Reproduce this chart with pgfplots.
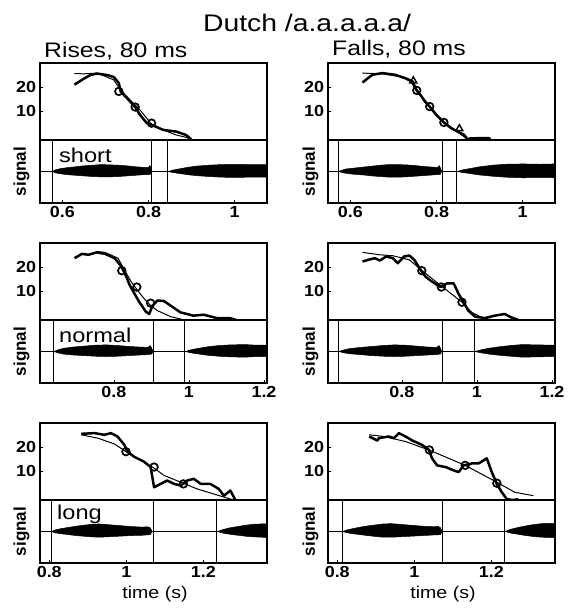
\documentclass[border=0pt]{standalone}
\usepackage{pgfplots}
\pgfplotsset{compat=1.18}
\usepackage{fontspec}
\setmainfont{Liberation Sans}
\newcommand{\fsz}[1]{\fontsize{#1}{#1}\selectfont}
\pgfplotsset{
  base/.style={scale only axis, width=227pt, anchor=north west,
    axis line style={line width=1.9pt}, tick style={line width=0.8pt, black},
    major tick length=3pt, tick align=inside, tick pos=left,
    ticklabel style={font=\bfseries\fsz{16}, xscale=1.12},
    /pgf/number format/assume math mode=true},
  pitch/.style={base, height=77pt, ymin=-2, ymax=30, ytick={10,20}, xtick=\empty},
  sig/.style={base, height=63pt, ymin=-1, ymax=1, ytick=\empty},
  thk/.style={black, line width=2.5pt, line join=round},
  thn/.style={black, line width=1pt},
  circ/.style={only marks, mark=o, mark size=3.8pt, mark options={line width=1.7pt, black}},
  tri/.style={only marks, mark=triangle, mark size=4pt, mark options={line width=1.4pt, black}},
  wave/.style={fill=black, draw=black, line width=0.5pt},
  vl/.style={black, line width=0.8pt},
}
\begin{document}
\begin{tikzpicture}[x=1pt,y=1pt]
\useasboundingbox (0,0) rectangle (570,-610);
% ---------------- titles
\node[anchor=base, font=\fsz{24}, xscale=1.18] at (307,-32) {Dutch /a.a.a.a.a/};
\node[anchor=base west, font=\fsz{21}, xscale=1.18] at (40,-57) {Rises, 80 ms};
\node[anchor=base west, font=\fsz{21}, xscale=1.18] at (328,-56) {Falls, 80 ms};

% ================= ROW 1 LEFT
\begin{axis}[pitch, at={(40pt,-63pt)}, xmin=0.548, xmax=1.075]
\addplot[thk] coordinates {(0.628,21.0) (0.650,23.5) (0.666,25.1) (0.681,25.6) (0.704,25.0) (0.719,24.2) (0.731,21.7) (0.735,18.2) (0.750,15.4) (0.769,11.7) (0.780,8.5) (0.796,5.0) (0.807,4.3) (0.834,2.2) (0.864,1.5) (0.887,0.1) (0.899,-1.7)};
\addplot[thn] coordinates {(0.628,25.6) (0.650,25.5) (0.681,25.8) (0.719,23.0) (0.735,18.9) (0.750,16.0) (0.769,12.5) (0.780,10.5) (0.796,7.0) (0.807,4.5) (0.834,2.2) (0.864,0.1) (0.887,-0.9) (0.899,-1.7)};
\addplot[circ] coordinates {(0.731,18.2) (0.769,11.7) (0.807,5.0)};
\end{axis}
\begin{axis}[sig, at={(40pt,-140pt)}, xmin=0.548, xmax=1.075, xtick={0.6,0.8,1}]
\addplot[wave] coordinates {(0.577,0) (0.583,0.05) (0.595,0.09) (0.61,0.12) (0.63,0.15) (0.65,0.18) (0.67,0.20) (0.69,0.22) (0.71,0.21) (0.73,0.20) (0.75,0.18) (0.77,0.15) (0.79,0.13) (0.800,0.13) (0.803,0.19) (0.806,0.10) (0.808,0) (0.806,-0.08) (0.80,-0.10) (0.79,-0.10) (0.77,-0.12) (0.75,-0.14) (0.73,-0.16) (0.71,-0.17) (0.69,-0.17) (0.67,-0.16) (0.65,-0.14) (0.63,-0.12) (0.61,-0.10) (0.595,-0.07) (0.583,-0.04) (0.577,0)};
\addplot[wave] coordinates {(0.846,0) (0.855,0.04) (0.87,0.08) (0.89,0.13) (0.91,0.17) (0.94,0.20) (0.97,0.22) (1.00,0.23) (1.03,0.22) (1.075,0.22) (1.075,-0.18) (1.03,-0.18) (1.00,-0.19) (0.97,-0.18) (0.94,-0.16) (0.91,-0.13) (0.89,-0.10) (0.87,-0.06) (0.855,-0.03) (0.846,0)};
\addplot[vl] coordinates {(0.548,0) (1.075,0)};
\addplot[vl] coordinates {(0.577,-1) (0.577,1)};
\addplot[vl] coordinates {(0.807,-1) (0.807,1)};
\addplot[vl] coordinates {(0.843,-1) (0.843,1)};
\end{axis}

% ================= ROW 1 RIGHT
\begin{axis}[pitch, at={(328pt,-63pt)}, xmin=0.548, xmax=1.075]
\addplot[thk] coordinates {(0.628,21.9) (0.651,25.1) (0.674,25.8) (0.704,25.1) (0.727,23.7) (0.742,22.4) (0.754,18.6) (0.765,16.1) (0.773,14.0) (0.784,11.9) (0.799,8.5) (0.817,5.3) (0.834,2.9) (0.864,0.1) (0.872,-1.7) (0.879,-1.3) (0.921,-1.2) (0.925,-1.7)};
\addplot[thn] coordinates {(0.628,25.8) (0.674,25.5) (0.727,24.0) (0.746,22.5) (0.754,19.0) (0.784,12.0) (0.817,5.5) (0.853,0.8) (0.872,-1.7)};
\addplot[circ] coordinates {(0.754,18.6) (0.784,11.9) (0.817,5.3)};
\addplot[tri] coordinates {(0.746,22.6) (0.853,2.7)};
\end{axis}
\begin{axis}[sig, at={(328pt,-140pt)}, xmin=0.548, xmax=1.075, xtick={0.6,0.8,1}]
\addplot[wave] coordinates {(0.572,0) (0.58,0.04) (0.59,0.08) (0.61,0.11) (0.63,0.14) (0.65,0.17) (0.67,0.20) (0.69,0.22) (0.71,0.22) (0.73,0.21) (0.75,0.19) (0.77,0.16) (0.79,0.14) (0.803,0.13) (0.806,0.19) (0.809,0.11) (0.812,0) (0.809,-0.09) (0.80,-0.10) (0.78,-0.12) (0.75,-0.15) (0.73,-0.17) (0.71,-0.18) (0.69,-0.18) (0.67,-0.16) (0.65,-0.14) (0.63,-0.11) (0.61,-0.09) (0.59,-0.06) (0.58,-0.03) (0.572,0)};
\addplot[wave] coordinates {(0.848,0) (0.86,0.05) (0.88,0.10) (0.90,0.15) (0.93,0.20) (0.96,0.23) (1.00,0.24) (1.04,0.23) (1.075,0.24) (1.075,-0.20) (1.04,-0.19) (1.00,-0.20) (0.96,-0.18) (0.93,-0.15) (0.90,-0.11) (0.88,-0.07) (0.86,-0.03) (0.848,0)};
\addplot[vl] coordinates {(0.548,0) (1.075,0)};
\addplot[vl] coordinates {(0.571,-1) (0.571,1)};
\addplot[vl] coordinates {(0.813,-1) (0.813,1)};
\addplot[vl] coordinates {(0.846,-1) (0.846,1)};
\end{axis}

% ================= ROW 2 LEFT
\begin{axis}[pitch, at={(40pt,-243pt)}, xmin=0.603, xmax=1.208]
\addplot[thk] coordinates {(0.695,23.7) (0.715,25.5) (0.732,25.1) (0.754,26.1) (0.776,25.5) (0.802,23.7) (0.820,20.2) (0.833,16.0) (0.842,12.5) (0.855,8.9) (0.868,5.4) (0.885,1.5) (0.894,0.5) (0.903,4.0) (0.916,6.1) (0.933,5.9) (0.951,4.0) (0.977,1.2) (1.012,-0.2) (1.039,0.2) (1.074,-1.2) (1.109,-1.2) (1.126,-2)};
\addplot[thn] coordinates {(0.754,26.5) (0.776,26.1) (0.811,23.7) (0.828,18.8) (0.846,13.9) (0.863,10.3) (0.881,6.8) (0.898,4.0) (0.916,1.9) (0.951,-0.6) (0.986,-1.9)};
\addplot[circ] coordinates {(0.821,18.5) (0.861,11.7) (0.898,5.0)};
\end{axis}
\begin{axis}[sig, at={(40pt,-320pt)}, xmin=0.603, xmax=1.208, xtick={0.8,1,1.2}]
\addplot[wave] coordinates {(0.640,0) (0.65,0.05) (0.665,0.10) (0.69,0.14) (0.72,0.17) (0.75,0.20) (0.78,0.21) (0.81,0.19) (0.84,0.16) (0.87,0.14) (0.89,0.13) (0.897,0.19) (0.901,0.10) (0.904,0) (0.901,-0.08) (0.89,-0.10) (0.87,-0.11) (0.84,-0.13) (0.81,-0.15) (0.78,-0.16) (0.75,-0.15) (0.72,-0.13) (0.69,-0.11) (0.665,-0.08) (0.65,-0.04) (0.640,0)};
\addplot[wave] coordinates {(0.992,0) (1.00,0.04) (1.02,0.09) (1.05,0.15) (1.08,0.19) (1.11,0.21) (1.15,0.22) (1.18,0.20) (1.208,0.20) (1.208,-0.16) (1.18,-0.16) (1.15,-0.18) (1.11,-0.17) (1.08,-0.15) (1.05,-0.12) (1.02,-0.07) (1.00,-0.03) (0.992,0)};
\addplot[vl] coordinates {(0.603,0) (1.208,0)};
\addplot[vl] coordinates {(0.639,-1) (0.639,1)};
\addplot[vl] coordinates {(0.905,-1) (0.905,1)};
\addplot[vl] coordinates {(0.989,-1) (0.989,1)};
\end{axis}

% ================= ROW 2 RIGHT
\begin{axis}[pitch, at={(328pt,-243pt)}, xmin=0.603, xmax=1.208]
\addplot[thk] coordinates {(0.695,22.3) (0.710,23.0) (0.728,23.7) (0.741,22.7) (0.758,24.4) (0.776,23.7) (0.789,21.6) (0.806,24.4) (0.820,24.8) (0.833,23.0) (0.850,18.8) (0.863,16.0) (0.881,13.9) (0.903,11.7) (0.920,13.2) (0.938,13.2) (0.951,8.9) (0.964,5.4) (0.977,1.9) (0.995,-0.6) (1.021,-1.2) (1.047,-0.2) (1.074,0.5) (1.091,-0.9) (1.109,-1.9)};
\addplot[thn] coordinates {(0.695,26.1) (0.741,25.1) (0.776,24.7) (0.820,23.0) (0.850,19.0) (0.903,12.4) (0.960,5.4) (0.986,1.2) (1.012,-0.9) (1.039,-1.9)};
\addplot[circ] coordinates {(0.853,18.5) (0.905,11.7) (0.960,5.4)};
\end{axis}
\begin{axis}[sig, at={(328pt,-320pt)}, xmin=0.603, xmax=1.208, xtick={0.8,1,1.2}]
\addplot[wave] coordinates {(0.632,0) (0.645,0.05) (0.66,0.09) (0.69,0.13) (0.72,0.16) (0.75,0.19) (0.78,0.21) (0.81,0.20) (0.84,0.17) (0.87,0.14) (0.893,0.13) (0.899,0.19) (0.903,0.10) (0.906,0) (0.903,-0.08) (0.89,-0.10) (0.87,-0.11) (0.84,-0.13) (0.81,-0.15) (0.78,-0.16) (0.75,-0.15) (0.72,-0.13) (0.69,-0.10) (0.66,-0.07) (0.645,-0.04) (0.632,0)};
\addplot[wave] coordinates {(0.995,0) (1.01,0.05) (1.03,0.10) (1.06,0.15) (1.09,0.19) (1.12,0.22) (1.16,0.21) (1.208,0.20) (1.208,-0.16) (1.16,-0.17) (1.12,-0.18) (1.09,-0.15) (1.06,-0.12) (1.03,-0.08) (1.01,-0.04) (0.995,0)};
\addplot[vl] coordinates {(0.603,0) (1.208,0)};
\addplot[vl] coordinates {(0.630,-1) (0.630,1)};
\addplot[vl] coordinates {(0.908,-1) (0.908,1)};
\addplot[vl] coordinates {(0.992,-1) (0.992,1)};
\end{axis}

% ================= ROW 3 LEFT
\begin{axis}[pitch, at={(40pt,-423pt)}, xmin=0.776, xmax=1.365]
\addplot[thk] coordinates {(0.883,25.5) (0.917,25.8) (0.943,25.1) (0.960,25.8) (0.977,24.4) (0.995,20.9) (1.003,18.1) (1.020,16.0) (1.046,13.9) (1.063,11.7) (1.072,3.3) (1.089,4.7) (1.106,6.1) (1.124,4.7) (1.141,4.0) (1.158,6.1) (1.175,6.8) (1.193,4.7) (1.218,4.7) (1.240,2.6) (1.253,-0.2) (1.270,1.9) (1.283,-2.0)};
\addplot[thn] coordinates {(0.883,25.1) (0.926,23.7) (0.969,21.3) (0.999,18.1) (1.029,15.3) (1.068,11.7) (1.098,8.2) (1.141,5.4) (1.184,2.6) (1.227,0.5) (1.270,-1.6) (1.283,-2.0)};
\addplot[circ] coordinates {(0.999,18.1) (1.072,11.7) (1.148,4.7)};
\end{axis}
\begin{axis}[sig, at={(40pt,-500pt)}, xmin=0.776, xmax=1.365, xtick={0.8,1,1.2}]
\addplot[wave] coordinates {(0.806,0) (0.815,0.05) (0.83,0.09) (0.85,0.13) (0.87,0.17) (0.89,0.20) (0.91,0.23) (0.93,0.24) (0.95,0.22) (0.98,0.19) (1.01,0.16) (1.04,0.14) (1.055,0.15) (1.062,0.12) (1.067,0) (1.062,-0.10) (1.04,-0.12) (1.01,-0.13) (0.98,-0.15) (0.95,-0.17) (0.93,-0.18) (0.91,-0.17) (0.89,-0.15) (0.87,-0.13) (0.85,-0.10) (0.83,-0.07) (0.815,-0.04) (0.806,0)};
\addplot[wave] coordinates {(1.237,0) (1.25,0.06) (1.27,0.12) (1.29,0.16) (1.31,0.20) (1.33,0.23) (1.35,0.24) (1.365,0.24) (1.365,-0.19) (1.35,-0.18) (1.33,-0.17) (1.31,-0.15) (1.29,-0.12) (1.27,-0.09) (1.25,-0.05) (1.237,0)};
\addplot[vl] coordinates {(0.776,0) (1.365,0)};
\addplot[vl] coordinates {(0.805,-1) (0.805,1)};
\addplot[vl] coordinates {(1.070,-1) (1.070,1)};
\addplot[vl] coordinates {(1.235,-1) (1.235,1)};
\end{axis}

% ================= ROW 3 RIGHT
\begin{axis}[pitch, at={(328pt,-423pt)}, xmin=0.776, xmax=1.365]
\addplot[thk] coordinates {(0.883,24.4) (0.904,22.7) (0.908,23.7) (0.934,24.4) (0.947,23.7) (0.960,25.8) (0.977,24.4) (0.995,22.7) (1.020,20.9) (1.038,18.8) (1.046,15.3) (1.059,12.4) (1.081,11.7) (1.102,10.3) (1.115,9.6) (1.128,12.4) (1.150,13.2) (1.167,13.2) (1.188,15.3) (1.201,9.6) (1.214,4.7) (1.227,1.2) (1.240,-1.6) (1.253,-2.0) (1.270,-1.7)};
\addplot[thn] coordinates {(0.883,25.1) (0.921,24.4) (0.977,22.3) (1.038,18.8) (1.132,12.4) (1.214,5.4) (1.261,1.2) (1.309,-0.2)};
\addplot[circ] coordinates {(1.039,18.8) (1.132,12.4) (1.214,5.0)};
\end{axis}
\begin{axis}[sig, at={(328pt,-500pt)}, xmin=0.776, xmax=1.365, xtick={0.8,1,1.2}]
\addplot[wave] coordinates {(0.814,0) (0.825,0.05) (0.84,0.09) (0.86,0.14) (0.88,0.18) (0.90,0.21) (0.92,0.24) (0.94,0.25) (0.96,0.23) (0.99,0.20) (1.02,0.17) (1.05,0.15) (1.062,0.16) (1.068,0.12) (1.072,0) (1.068,-0.10) (1.05,-0.11) (1.02,-0.13) (0.99,-0.15) (0.96,-0.17) (0.94,-0.18) (0.92,-0.18) (0.90,-0.16) (0.88,-0.13) (0.86,-0.10) (0.84,-0.07) (0.825,-0.04) (0.814,0)};
\addplot[wave] coordinates {(1.235,0) (1.25,0.07) (1.27,0.13) (1.29,0.18) (1.31,0.22) (1.33,0.25) (1.35,0.26) (1.365,0.26) (1.365,-0.20) (1.35,-0.19) (1.33,-0.18) (1.31,-0.16) (1.29,-0.13) (1.27,-0.09) (1.25,-0.05) (1.235,0)};
\addplot[vl] coordinates {(0.776,0) (1.365,0)};
\addplot[vl] coordinates {(0.813,-1) (0.813,1)};
\addplot[vl] coordinates {(1.074,-1) (1.074,1)};
\addplot[vl] coordinates {(1.233,-1) (1.233,1)};
\end{axis}

% ---------------- panel labels
\node[anchor=base west, font=\fsz{20}, xscale=1.18] at (55,-162) {short};
\node[anchor=base west, font=\fsz{20}, xscale=1.18] at (55,-342) {normal};
\node[anchor=base west, font=\fsz{20}, xscale=1.18] at (53,-519) {long};
\foreach \yy in {-171.5,-351.5,-531.5}{
  \node[rotate=90, anchor=south, font=\bfseries\fsz{17}] at (33,\yy) {signal};
  \node[rotate=90, anchor=south, font=\bfseries\fsz{17}] at (322,\yy) {signal};
}
\node[anchor=base, font=\fsz{17}, xscale=1.15] at (155,-598) {time (s)};
\node[anchor=base, font=\fsz{17}, xscale=1.15] at (443,-598) {time (s)};
\end{tikzpicture}
\end{document}
